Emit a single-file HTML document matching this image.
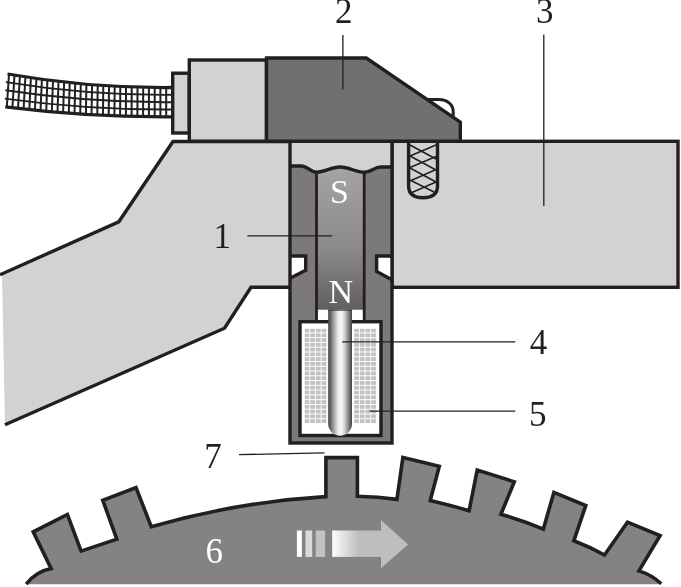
<!DOCTYPE html>
<html><head><meta charset="utf-8"><title>Sensor</title>
<style>
html,body{margin:0;padding:0;background:#fff;}
body{width:681px;height:587px;overflow:hidden;font-family:"Liberation Serif",serif;}
svg{display:block;will-change:transform;}
text{font-family:"Liberation Serif",serif;font-size:35px;}
</style></head><body>
<svg width="681" height="587" viewBox="0 0 681 587">
<defs>
<linearGradient id="mag" gradientUnits="userSpaceOnUse" x1="0" y1="170" x2="0" y2="309">
<stop offset="0" stop-color="#a4a2a3"/><stop offset="0.57" stop-color="#8b898a"/><stop offset="0.79" stop-color="#767475"/><stop offset="1" stop-color="#605e5f"/>
</linearGradient>
<linearGradient id="pin" x1="0" y1="0" x2="1" y2="0">
<stop offset="0" stop-color="#424242"/><stop offset="0.08" stop-color="#5e5e5e"/><stop offset="0.22" stop-color="#9c9c9c"/><stop offset="0.4" stop-color="#e6e6e6"/><stop offset="0.53" stop-color="#fbfbfb"/><stop offset="0.68" stop-color="#d4d4d4"/><stop offset="0.82" stop-color="#949494"/><stop offset="0.93" stop-color="#606060"/><stop offset="1" stop-color="#404040"/>
</linearGradient>
<linearGradient id="arr" x1="0" y1="0" x2="1" y2="0">
<stop offset="0" stop-color="#ffffff"/><stop offset="0.52" stop-color="#bebebe"/><stop offset="1" stop-color="#bebebe"/>
</linearGradient>
<pattern id="coil" x="304.5" y="328.6" width="5.7" height="4.77" patternUnits="userSpaceOnUse">
<rect x="0" y="0" width="4.8" height="3.8" fill="#c2c2c2"/>
</pattern>
</defs>
<rect width="681" height="587" fill="#fff"/>

<!-- bracket (left body) -->
<path d="M173,141.5 L119,222 L2,274 L5,425.5 L224.5,328.2 L251,287.3 L290,287.3 L290,141.5 Z" fill="#d2d2d2"/>
<path d="M290,141.5 L173,141.5 L118.8,221.8 L0,274.8" fill="none" stroke="#231f20" stroke-width="3.4" stroke-linejoin="miter"/>
<path d="M5,424.8 L224.5,328.2 L251,287.3 L290,287.3" fill="none" stroke="#231f20" stroke-width="3.4" stroke-linejoin="miter"/>

<!-- block 3 -->
<rect x="392" y="141.3" width="286" height="146" fill="#d2d2d2" stroke="#231f20" stroke-width="3.4"/>

<!-- screw hole -->
<path d="M408.6,141.3 L408.6,186 Q408.6,197.7 423,197.7 Q437.5,197.7 437.5,186 L437.5,141.3" fill="#d2d2d2" stroke="#231f20" stroke-width="3.4"/>
<path d="M410,145 L436,159 M410,156 L436,170 M410,168 L436,182 M410,180 L434,192 M410,156 L436,145 M410,167.5 L436,156.5 M410,181 L436,169.5 M412,192.5 L436,182" stroke="#231f20" stroke-width="1.5" fill="none"/>

<!-- housing -->
<rect x="290" y="141.3" width="102" height="301.7" fill="#7b797a"/>
<path d="M290,141.3 L392,141.3 L392,167 L381,167 C374,167 371,172.3 364.2,172.3 C356,172.3 349,167 340,167 C331,167 325,172.3 316.5,172.3 C310,172.3 308,166 301,166 L290,166 Z" fill="#d2d2d2"/>
<!-- magnet -->
<path d="M316.5,172.3 C325,172.3 331,167 340,167 C349,167 356,172.3 364.2,172.3 L364.2,309.6 L316.5,309.6 Z" fill="url(#mag)"/>
<!-- white gaps under magnet -->
<rect x="317" y="309.8" width="12" height="11" fill="#fff"/>
<rect x="351" y="309.8" width="13" height="11" fill="#fff"/>
<!-- magnet side strokes -->
<path d="M316.5,172 L316.5,321 M364.2,172 L364.2,321" stroke="#231f20" stroke-width="2.8" fill="none"/>
<!-- wavy line -->
<path d="M290,166 L301,166 C308,166 310,172.3 316.5,172.3 C325,172.3 331,167 340,167 C349,167 356,172.3 364.2,172.3 C371,172.3 374,167 381,167 L392,167" fill="none" stroke="#231f20" stroke-width="3.4"/>
<!-- o-ring notches -->
<path d="M290,256 L305.7,256 L305.7,270.3 L290,278.2 Z" fill="#fff"/><path d="M290,256 L305.7,256 L305.7,270.3 L290.5,278" fill="none" stroke="#231f20" stroke-width="3.4"/>
<path d="M392,256 L376.6,256 L376.6,271.4 L392,279.8 Z" fill="#fff"/><path d="M392,256 L376.6,256 L376.6,271.4 L391.5,279.5" fill="none" stroke="#231f20" stroke-width="3.4"/>
<!-- coil box -->
<rect x="300" y="321.7" width="81" height="113.8" fill="#fff" stroke="#231f20" stroke-width="3.4"/>
<rect x="304.5" y="328.6" width="22.6" height="95.3" fill="url(#coil)"/>
<g transform="translate(49.6,0)"><rect x="304.5" y="328.6" width="22.6" height="95.3" fill="url(#coil)"/></g>
<!-- pin -->
<path d="M328.2,309.8 L352,309.8 L352,423.8 A11.9,11.9 0 0 1 328.2,423.8 Z" fill="url(#pin)"/>
<path d="M328.2,310.2 L352,310.2" stroke="#3a3a3a" stroke-width="1" fill="none"/>
<!-- housing outline -->
<rect x="290" y="141.3" width="102" height="301.7" fill="none" stroke="#231f20" stroke-width="3.4"/>

<!-- cable -->
<path d="M9,74.3 Q88,88.2 172,87.5 L172,116.8 Q88,117.3 6.8,107.2 Z" fill="#fff"/>
<path d="M9.0,74.3L6.8,107.2M14.5,75.2L12.4,107.9M19.9,76.1L18.0,108.5M25.4,77.0L23.6,109.2M30.9,77.9L29.3,109.8M36.4,78.7L34.9,110.4M41.9,79.4L40.5,110.9M47.4,80.2L46.2,111.5M53.0,80.9L51.8,112.0M58.5,81.5L57.5,112.4M64.1,82.2L63.1,112.9M69.7,82.7L68.8,113.3M75.2,83.3L74.5,113.7M80.8,83.8L80.2,114.1M86.4,84.3L85.9,114.5M92.1,84.8L91.5,114.8M97.7,85.2L97.3,115.1M103.3,85.6L103.0,115.4M109.0,85.9L108.7,115.7M114.7,86.2L114.4,115.9M120.3,86.5L120.1,116.1M126.0,86.8L125.9,116.3M131.7,87.0L131.6,116.4M137.5,87.2L137.4,116.6M143.2,87.3L143.1,116.7M148.9,87.4L148.9,116.7M154.7,87.5L154.7,116.8M160.4,87.5L160.4,116.8M166.2,87.5L166.2,116.8M172.0,87.5L172.0,116.8" stroke="#231f20" stroke-width="2.0" fill="none"/>
<path d="M5.9,82.1 Q88.0,95.5 172.0,94.8" stroke="#231f20" stroke-width="1.9" fill="none"/>
<path d="M5.4,90.3 Q88.0,102.8 172.0,102.2" stroke="#231f20" stroke-width="1.9" fill="none"/>
<path d="M4.8,98.6 Q88.0,110.0 172.0,109.5" stroke="#231f20" stroke-width="1.9" fill="none"/>
<path d="M7.5,74.0 Q88,88.2 172,87.5" stroke="#231f20" stroke-width="3.3" fill="none"/>
<path d="M5.3,106.9 Q88,117.3 172,116.8" stroke="#231f20" stroke-width="3.3" fill="none"/>
<!-- connector boxes -->
<rect x="172.7" y="73.2" width="16.6" height="59.8" fill="#d2d2d2" stroke="#231f20" stroke-width="3.4"/>
<rect x="189.3" y="60" width="77.2" height="81.2" fill="#d2d2d2" stroke="#231f20" stroke-width="3.4"/>
<!-- bolt head -->
<path d="M427,99.4 L439,99.4 C447,99.4 453.2,104.5 453.2,111.5 L453.2,118 Z" fill="#fff" stroke="#231f20" stroke-width="3"/>
<!-- dark cap -->
<path d="M266.5,58 L366.3,58 L460.3,122.2 L460.3,141.3 L266.5,141.3 Z" fill="#716f70" stroke="#231f20" stroke-width="3.4" stroke-linejoin="miter"/>

<!-- wheel -->
<path d="M26.2,584.2 Q36,571.5 51.2,568.6 L33.2,531.9 L67.4,514.4 L81.1,551.1 L116.8,539.1 L102.8,500.4 L136,487.5 L151.3,526.8
Q237,502 325.9,496.6 L325.9,457.6 L357.4,457.6 L357.4,496.2 Q378,496.4 396.9,499.4 L402.9,457.5 L439.3,466.2 L430.3,500.4
Q450,505 469.1,510.8 L477.2,470.1 L514.3,481.8 L500.9,514.3 Q523,520.5 543.3,529.2 L553.9,492.4 L585.8,505.5 L573.8,540.8
Q590,547 604.5,555 L627.5,522.1 L660.1,535.5 L638.9,570.9 Q652,575 661.2,583.8 L661.2,584.2 Z" fill="#848283"/>
<path d="M26.2,584.2 Q36,571.5 51.2,568.6 L33.2,531.9 L67.4,514.4 L81.1,551.1 L116.8,539.1 L102.8,500.4 L136,487.5 L151.3,526.8
Q237,502 325.9,496.6 L325.9,457.6 L357.4,457.6 L357.4,496.2 Q378,496.4 396.9,499.4 L402.9,457.5 L439.3,466.2 L430.3,500.4
Q450,505 469.1,510.8 L477.2,470.1 L514.3,481.8 L500.9,514.3 Q523,520.5 543.3,529.2 L553.9,492.4 L585.8,505.5 L573.8,540.8
Q590,547 604.5,555 L627.5,522.1 L660.1,535.5 L638.9,570.9 Q652,575 661.2,583.8" fill="none" stroke="#231f20" stroke-width="3.6" stroke-linejoin="miter"/>
<!-- arrow -->
<rect x="296.9" y="530.5" width="5" height="26.4" fill="#fff"/>
<rect x="305.4" y="530.5" width="6.8" height="26.4" fill="#dadada"/>
<rect x="315.7" y="530.5" width="9.4" height="26.4" fill="#c2c2c2"/>
<rect x="332.2" y="530.5" width="49.5" height="26.4" fill="url(#arr)"/>
<path d="M381,520 L408,544.4 L381,568.2 Z" fill="#bebebe"/>

<!-- leader lines -->
<path d="M342.9,35 L342.9,89.4 M543.8,34.5 L543.8,206 M247.4,235.8 L332.2,235.8 M342.3,341.9 L515.3,341.9 M369.5,411.2 L515.3,411.2 M239,454.6 L324.5,452.8" stroke="#231f20" stroke-width="1.3" fill="none"/>

<!-- labels -->
<g fill="#231f20">
<text x="335.0" y="22.9">2</text>
<text x="536.0" y="22.8">3</text>
<text x="213.5" y="247.8">1</text>
<text x="529.8" y="353.6">4</text>
<text x="529.0" y="426.2">5</text>
<text x="204.3" y="467.7">7</text>
</g>
<g fill="#fff">
<text x="205.5" y="563.2">6</text>
<text x="329.9" y="202.9" style="font-size:34px">S</text>
<text x="328.5" y="302.5" style="font-size:34px">N</text>
</g>
</svg>
</body></html>
